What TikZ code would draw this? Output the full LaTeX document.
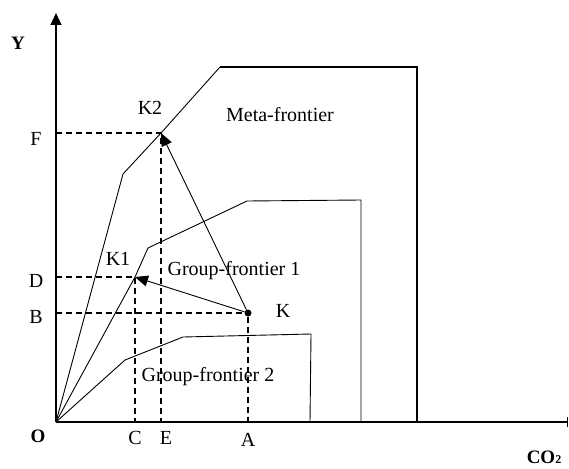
\documentclass[tikz,border=0pt]{standalone}
\usepackage{fontspec}
\setmainfont{Liberation Serif}
\usetikzlibrary{arrows.meta}
\begin{document}
\begin{tikzpicture}[x=1pt,y=-1pt,
  lbl/.style={font=\fontsize{20}{24}\selectfont, inner sep=0pt},
  blbl/.style={font=\fontsize{19}{22}\selectfont\bfseries, inner sep=0pt},
  thin/.style={line width=0.9pt},
  dsh/.style={line width=1.4pt, dash pattern=on 6pt off 4pt},
  axis/.style={line width=1.2pt},
  arr/.style={line width=0.9pt, -{Triangle[length=13pt,width=11pt]}},
  pt/.style={circle, fill=black, inner sep=0pt, minimum size=7pt}]
\useasboundingbox (0,0) rectangle (569,468);
% key points
\coordinate (O) at (56,422);
\coordinate (ytop) at (56,13);
\coordinate (xend) at (568,422);
\coordinate (K2) at (161,133);
\coordinate (K1) at (135,277);
\node[pt] (K) at (248,313) {};
\coordinate (F) at (56,133);
\coordinate (E) at (161,422);
\coordinate (D) at (56,277);
\coordinate (C) at (135,422);
\coordinate (B) at (56,313);
\coordinate (A) at (248,422);
% axes
\draw[axis, -{Triangle[length=12pt,width=11pt]}] (O) -- (ytop);
\draw[axis, -{Bar[width=10pt]}] (O) -- (xend);
% meta-frontier
\draw[thin] (O) -- (123,174) -- (K2) -- (220,67);
\draw[line width=2pt] (220,67) -- (417,67) -- (417,422);
% group frontier 1
\draw[thin] (O) -- (K1) -- (148,248) -- (247,201) -- (361,200) -- (361,422);
% group frontier 2
\draw[thin] (O) -- (125,360) -- (183,337) -- (311,334) -- (310,422);
% dashed projections
\draw[dsh] (F) -- (K2) -- (E);
\draw[dsh] (D) -- (K1) -- (C);
\draw[dsh] (B) -- (K) -- (A);
% arrows
\draw[arr] (K) -- (K1);
\draw[arr] (K) -- (K2);
% labels
\node[blbl] at (18,43) {Y};
\node[lbl] at (36,139) {F};
\node[lbl] at (36,281) {D};
\node[lbl] at (36,317) {B};
\node[blbl] at (38,436) {O};
\node[lbl] at (135,438) {C};
\node[lbl] at (166,438) {E};
\node[lbl] at (248,440) {A};
\node[lbl] at (283,311) {K};
\node[lbl] at (118,259) {K1};
\node[lbl] at (150,108) {K2};
\node[lbl] at (280,115) {Meta-frontier};
\node[lbl] at (234,271) {Group-frontier 1};
\node[lbl] at (208,377) {Group-frontier 2};
\node[blbl] at (544,457) {CO{\fontsize{12}{13}\selectfont 2}};
\end{tikzpicture}
\end{document}
